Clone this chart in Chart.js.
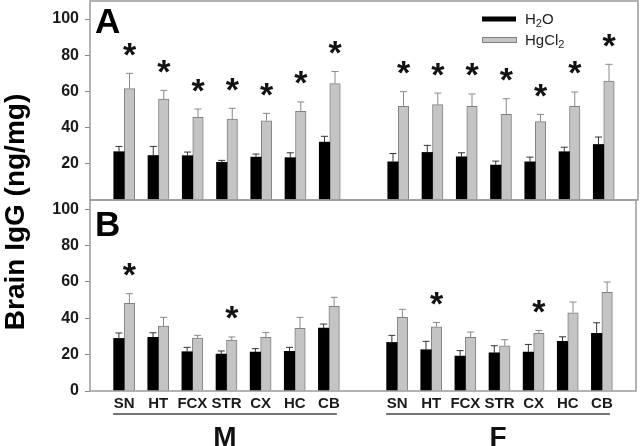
<!DOCTYPE html>
<html>
<head>
<meta charset="utf-8">
<script src="https://cdn.jsdelivr.net/npm/chart.js@4.4.1/dist/chart.umd.min.js"></script>
<style>
html, body { margin: 0; padding: 0; background: #fff; }
#wrap { position: relative; width: 640px; height: 446px; overflow: hidden; }
canvas { position: absolute; left: 0; top: 0; }
</style>
</head>
<body>
<div id="wrap">
  <canvas id="chartA" width="640" height="446"></canvas>
  <canvas id="chartB" width="640" height="446"></canvas>
</div>
<script>
// Brain regions, same for both sexes
const regions = ['SN', 'HT', 'FCX', 'STR', 'CX', 'HC', 'CB'];
const groups = ['M', 'F'];

// Panel A - means and SEM (ng/mg)
const aWaterM = [26.7, 24.6, 24.5, 20.8, 23.7, 23.4, 32.0];
const aWaterMErr = [2.9, 5.0, 2.0, 1.1, 1.7, 2.7, 3.2];
const aHgM = [61.6, 55.8, 45.7, 44.7, 43.8, 49.0, 64.3];
const aHgMErr = [8.4, 4.8, 4.6, 6.0, 4.1, 5.2, 6.7];
const aWaterF = [21.1, 26.3, 23.9, 19.3, 21.1, 26.7, 30.7];
const aWaterFErr = [4.6, 3.9, 2.2, 2.2, 2.6, 2.5, 4.1];
const aHgF = [51.8, 52.7, 51.8, 47.3, 43.3, 51.8, 65.8];
const aHgFErr = [8.1, 6.4, 6.8, 8.7, 4.0, 7.9, 9.2];
const aSigM = [1, 1, 1, 1, 1, 1, 1];
const aSigF = [1, 1, 1, 1, 1, 1, 1];

// Panel B
const bWaterM = [28.9, 29.5, 21.6, 20.3, 21.4, 21.8, 34.6];
const bWaterMErr = [3.0, 2.5, 2.4, 1.7, 1.9, 2.2, 2.2];
const bHgM = [48.2, 35.7, 29.1, 28.0, 29.5, 34.4, 46.5];
const bHgMErr = [5.3, 4.8, 1.5, 1.7, 2.7, 6.1, 5.0];
const bWaterF = [26.7, 22.7, 19.2, 21.0, 21.4, 27.3, 31.7];
const bWaterFErr = [3.9, 4.6, 3.0, 3.9, 4.2, 2.5, 5.8];
const bHgF = [40.5, 35.3, 29.5, 24.9, 31.7, 43.0, 54.2];
const bHgFErr = [4.4, 2.4, 2.9, 3.3, 1.6, 5.9, 5.7];
const bSigM = [1, 0, 0, 1, 0, 0, 0];
const bSigF = [0, 1, 0, 0, 1, 0, 0];

// Y ticks
const ticksA = [20, 40, 60, 80, 100];
const ticksB = [0, 20, 40, 60, 80, 100];

const FONT = 'Arial, "Liberation Sans", Helvetica, sans-serif';
const BLACK = '#000000';
const GREY = '#c4c4c4';
const GREY_EDGE = '#808080';
const FRAME = '#9a9a9a';

// empty slot at both ends and between M and F
const labels = ['', ...regions, '', ...regions, ''];
function joinGroups(m, f) { return [null, ...m, null, ...f, null]; }

function makeDatasets(wM, wMe, hM, hMe, wF, wFe, hF, hFe, sM, sF) {
    return [{
        label: 'H2O',
        data: joinGroups(wM, wF),
        errors: joinGroups(wMe, wFe),
        errColor: '#333',
        backgroundColor: BLACK,
        borderWidth: 0,
        barThickness: 10.5
    }, {
        label: 'HgCl2',
        data: joinGroups(hM, hF),
        errors: joinGroups(hMe, hFe),
        sig: joinGroups(sM, sF),
        errColor: '#888',
        backgroundColor: GREY,
        borderColor: GREY_EDGE,
        borderWidth: 1,
        barThickness: 10.5
    }];
}

// Error bars (up only), asterisks and frame
const errorBars = {
    id: 'errorBars',
    afterDatasetsDraw(chart) {
        const ctx = chart.ctx;
        const y = chart.scales.y;
        const area = chart.chartArea;
        ctx.save();
        chart.data.datasets.forEach((ds, i) => {
            const meta = chart.getDatasetMeta(i);
            meta.data.forEach((bar, j) => {
                if (ds.data[j] == null) return;
                const top = y.getPixelForValue(ds.data[j] + ds.errors[j]);
                ctx.strokeStyle = ds.errColor;
                ctx.lineWidth = 1;
                ctx.beginPath();
                ctx.moveTo(bar.x, bar.y);
                ctx.lineTo(bar.x, top);
                ctx.moveTo(bar.x - 3.5, top);
                ctx.lineTo(bar.x + 3.5, top);
                ctx.stroke();
                if (ds.sig && ds.sig[j]) {
                    ctx.font = 'bold 34px ' + FONT;
                    ctx.fillStyle = '#111';
                    ctx.textAlign = 'center';
                    ctx.textBaseline = 'alphabetic';
                    const m = ctx.measureText('*');
                    const cy = top - 24;
                    const base = cy + (m.actualBoundingBoxAscent - m.actualBoundingBoxDescent) / 2;
                    ctx.fillText('*', bar.x, base);
                }
            });
        });
        ctx.strokeStyle = FRAME;
        ctx.lineWidth = 1.5;
        ctx.strokeRect(area.left, area.top, area.right - area.left, area.bottom - area.top);
        ctx.restore();
    }
};

function subText(ctx, parts, x, y) {
    // parts: [text, isSub]
    parts.forEach(([t, sub]) => {
        ctx.font = (sub ? '11px ' : '15px ') + FONT;
        ctx.fillText(t, x, sub ? y + 3 : y);
        x += ctx.measureText(t).width;
    });
}

const panelA = {
    id: 'panelA',
    afterDraw(chart) {
        const ctx = chart.ctx;
        ctx.save();
        ctx.fillStyle = '#000';
        ctx.font = 'bold 35px ' + FONT;
        ctx.textAlign = 'left';
        ctx.textBaseline = 'alphabetic';
        ctx.fillText('A', 95, 33);
        // legend
        ctx.fillStyle = BLACK;
        ctx.fillRect(482, 16.5, 34, 5);
        ctx.fillStyle = GREY;
        ctx.fillRect(482, 37.5, 34, 5);
        ctx.strokeStyle = GREY_EDGE;
        ctx.lineWidth = 1;
        ctx.strokeRect(482.5, 37.5, 34, 5);
        ctx.fillStyle = '#222';
        subText(ctx, [['H', 0], ['2', 1], ['O', 0]], 525, 24);
        subText(ctx, [['HgCl', 0], ['2', 1]], 525, 45);
        ctx.restore();
    }
};

const panelB = {
    id: 'panelB',
    afterDraw(chart) {
        const ctx = chart.ctx;
        const x = chart.scales.x;
        ctx.save();
        ctx.fillStyle = '#000';
        ctx.font = 'bold 35px ' + FONT;
        ctx.textAlign = 'left';
        ctx.textBaseline = 'alphabetic';
        ctx.fillText('B', 95, 236);
        // group underlines and names
        groups.forEach((g, k) => {
            const first = 1 + k * (regions.length + 1);
            const last = first + regions.length - 1;
            const x0 = x.getPixelForValue(first) - 11;
            const x1 = x.getPixelForValue(last) + 8;
            ctx.strokeStyle = '#444';
            ctx.lineWidth = 1.5;
            ctx.beginPath();
            ctx.moveTo(x0, 414);
            ctx.lineTo(x1, 414);
            ctx.stroke();
            ctx.font = 'bold 28px ' + FONT;
            ctx.textAlign = 'center';
            ctx.fillStyle = '#111';
            ctx.fillText(g, (x0 + x1) / 2, 446);
        });
        // y title across both panels
        ctx.translate(24, 212);
        ctx.rotate(-Math.PI / 2);
        ctx.font = 'bold 28px ' + FONT;
        ctx.textAlign = 'center';
        ctx.fillStyle = '#000';
        ctx.fillText('Brain IgG (ng/mg)', 0, 0);
        ctx.restore();
    }
};

function yAxis(max, tickVals) {
    return {
        min: 0,
        max: max,
        afterFit: scale => {
            scale.width = 90;
            scale.paddingTop = 0;
            scale.paddingBottom = 0;
        },
        afterBuildTicks: scale => { scale.ticks = tickVals.map(v => ({ value: v })); },
        border: { display: false },
        grid: { drawOnChartArea: false, drawTicks: true, tickLength: 5, color: '#888' },
        ticks: { color: '#1a1a1a', padding: 6, font: { family: FONT, size: 16, weight: 'bold' } }
    };
}

const common = {
    responsive: false,
    animation: false,
    plugins: { legend: { display: false }, tooltip: { enabled: false } },
    events: []
};

new Chart(document.getElementById('chartA'), {
    type: 'bar',
    data: {
        labels: labels,
        datasets: makeDatasets(aWaterM, aWaterMErr, aHgM, aHgMErr, aWaterF, aWaterFErr, aHgF, aHgFErr, aSigM, aSigF)
    },
    options: {
        ...common,
        layout: { padding: { left: 0, right: 2, top: 1, bottom: 246 } },
        scales: {
            x: { display: false, offset: false },
            y: yAxis(110, ticksA)
        }
    },
    plugins: [errorBars, panelA]
});

new Chart(document.getElementById('chartB'), {
    type: 'bar',
    data: {
        labels: labels,
        datasets: makeDatasets(bWaterM, bWaterMErr, bHgM, bHgMErr, bWaterF, bWaterFErr, bHgF, bHgFErr, bSigM, bSigF)
    },
    options: {
        ...common,
        layout: { padding: { left: 0, right: 2, top: 200, bottom: 0 } },
        scales: {
            x: {
                offset: false,
                afterFit: scale => { scale.height = 55; },
                border: { display: false },
                grid: { display: false, drawTicks: false },
                ticks: { color: '#1a1a1a', padding: 4, maxRotation: 0, autoSkip: false, font: { family: FONT, size: 15, weight: 'bold' } }
            },
            y: yAxis(105, ticksB)
        }
    },
    plugins: [errorBars, panelB]
});
</script>
</body>
</html>
